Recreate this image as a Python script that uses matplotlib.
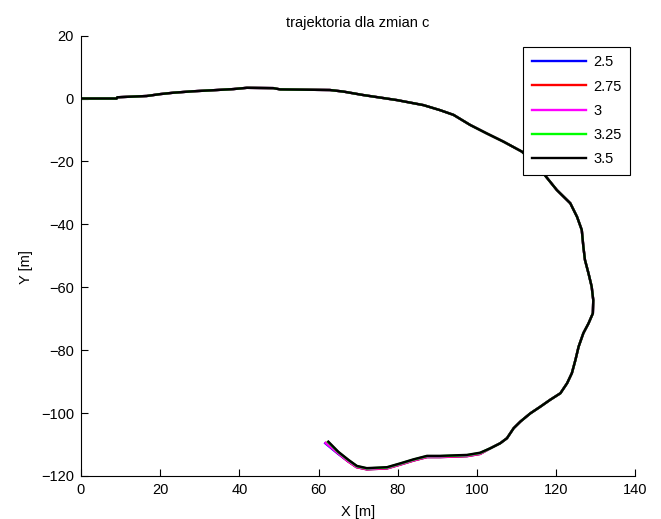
import matplotlib
matplotlib.use("Agg")
import matplotlib.pyplot as plt

plt.rcParams['font.family'] = ['Liberation Sans', 'DejaVu Sans']

# shared part of the trajectory (all five runs overlap here)
path_x = [0, 9, 9.2, 16.6, 20, 23.4, 28.3, 34.3, 38.5, 41.9, 48.6, 50.3, 62.9, 66.3, 71.3,
          79.8, 86.5, 90.7, 94.1, 98.3, 102.5, 106.7, 111.4, 114.5, 116.8, 120.2, 123.6,
          125.3, 126.5, 126.9, 127.3, 128.2, 129.0, 129.4, 129.3, 128.2, 126.9, 125.7,
          124.9, 124.0, 122.8, 121.1, 118.5, 116.0, 113.5, 111.0, 109.3, 107.6, 105.9,
          103.4]
path_y = [0, 0, 0.4, 0.8, 1.4, 1.85, 2.3, 2.7, 3.0, 3.4, 3.3, 2.9, 2.7, 2.2, 1.1,
          -0.5, -2.1, -3.7, -5.2, -8.4, -11.1, -13.7, -16.9, -20.5, -23.8, -29.1, -33.3,
          -37.6, -41.8, -47.1, -51.3, -55.6, -59.8, -64.1, -68.3, -71.5, -74.6, -78.9,
          -83.1, -87.3, -90.5, -93.7, -95.8, -98.0, -100.1, -102.7, -104.8, -108.0, -109.6,
          -111.2]

# final hook, where the runs drift apart slightly
tail_x = {
    '2.5':  [100.8, 97.5, 90.7, 87.4, 84.0, 80.6, 77.3, 72.2, 69.6, 67.4, 64.7, 61.7],
    '2.75': [100.8, 97.5, 90.7, 87.4, 84.0, 80.6, 77.3, 72.2, 69.6, 67.4, 64.8, 61.9],
    '3':    [100.8, 97.5, 90.7, 87.4, 84.0, 80.6, 77.3, 72.2, 69.6, 67.4, 64.8, 61.8],
    '3.25': [100.8, 97.5, 90.7, 87.4, 84.0, 80.6, 77.3, 72.2, 69.7, 67.6, 65.0, 62.4],
    '3.5':  [100.8, 97.5, 90.7, 87.4, 84.0, 80.6, 77.3, 72.2, 69.7, 67.6, 65.0, 62.5],
}
tail_y = {
    '2.5':  [-113.0, -113.7, -114.0, -114.0, -115.1, -116.4, -117.6, -117.9, -117.2, -115.3, -112.7, -109.6],
    '2.75': [-113.0, -113.7, -114.0, -114.0, -115.1, -116.4, -117.6, -117.9, -117.2, -115.3, -112.6, -109.5],
    '3':    [-112.9, -113.6, -113.9, -113.9, -115.0, -116.3, -117.5, -117.8, -117.1, -115.2, -112.6, -109.5],
    '3.25': [-112.7, -113.4, -113.7, -113.7, -114.8, -116.1, -117.3, -117.6, -116.9, -115.0, -112.4, -109.2],
    '3.5':  [-112.6, -113.3, -113.6, -113.6, -114.7, -116.0, -117.2, -117.5, -116.8, -114.9, -112.3, -109.1],
}

labels = ['2.5', '2.75', '3', '3.25', '3.5']
colors = ['#0000ff', '#ff0000', '#ff00ff', '#00ff00', '#000000']

fig = plt.figure(figsize=(6.61, 5.19), dpi=100)
ax = fig.add_axes([0.1225, 0.0829, 0.8385, 0.8485])

for lab, col in zip(labels, colors):
    ax.plot(path_x + tail_x[lab], path_y + tail_y[lab], color=col, lw=1.7, label=lab)

ax.set_xlim(0, 140)
ax.set_ylim(-120, 20)
ax.set_xticks(range(0, 141, 20))
ax.set_yticks(range(-120, 21, 20))
ax.spines['top'].set_visible(False)
ax.spines['right'].set_visible(False)
ax.tick_params(direction='in', length=5, labelsize=10.5, width=0.8, pad=5)
ax.set_xlabel('X [m]', fontsize=10.5, labelpad=6)
ax.set_ylabel('Y [m]', fontsize=10.5)
ax.yaxis.set_label_coords(-0.087, 0.475)
ax.set_title('trajektoria dla zmian c', fontsize=10.5, pad=6)

leg = ax.legend(loc='upper right', bbox_to_anchor=(1 - 5 / 554, 1 - 11 / 440),
                borderaxespad=0, fancybox=False, framealpha=1, edgecolor='black',
                fontsize=10.5, handlelength=3.7, labelspacing=0.7, handletextpad=0.5,
                borderpad=0.6)
leg.get_frame().set_linewidth(0.8)

plt.savefig('out.png', dpi=100)
